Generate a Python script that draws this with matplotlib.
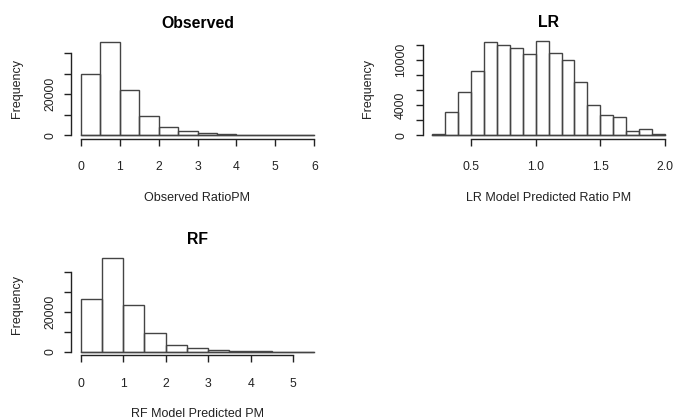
import matplotlib
matplotlib.use("Agg")
import matplotlib.pyplot as plt
import numpy as np

plt.rcParams['font.family'] = ['Liberation Sans', 'DejaVu Sans']

# bin edges and counts
obs_edges = [0, 0.5, 1, 1.5, 2, 2.5, 3, 3.5, 4, 4.5, 5, 5.5, 6]
obs_counts = [29750, 45660, 21950, 9560, 4200, 2250, 1270, 500, 300, 100, 50, 20]

lr_edges = [0.2, 0.3, 0.4, 0.5, 0.6, 0.7, 0.8, 0.9, 1.0, 1.1, 1.2, 1.3, 1.4,
            1.5, 1.6, 1.7, 1.8, 1.9, 2.0]
lr_counts = [130, 3150, 5730, 8530, 12400, 12000, 11680, 10800, 12530, 10930,
             10080, 7070, 4080, 2750, 2480, 610, 800, 130]

rf_edges = [0, 0.5, 1, 1.5, 2, 2.5, 3, 3.5, 4, 4.5, 5, 5.5]
rf_counts = [26400, 47050, 23380, 9570, 3530, 1700, 1000, 500, 100, 50, 20]

W, H = 673, 419
fig = plt.figure(figsize=(W / 100, H / 100), dpi=100)

ink = '#222222'
edge = '#444444'


def hist_panel(box, edges, counts, title, xlabel, xticks, xticklabels,
               yticks, ylabels):
    # box = (left, top, right, bottom) in pixels
    l, t, r, b = box
    w, h = r - l, b - t
    ax = fig.add_axes([l / W, 1 - b / H, w / W, h / H])
    edges = np.array(edges, dtype=float)
    counts = np.array(counts, dtype=float)
    ax.bar(edges[:-1], counts, width=np.diff(edges), align='edge',
           fill=False, edgecolor=edge, linewidth=1.0)
    ax.plot([edges[0], edges[-1]], [0, 0], color=edge, lw=1.0)
    xr = edges[-1] - edges[0]
    ymax = counts.max()
    ax.set_xlim(edges[0] - 0.04 * xr, edges[-1] + 0.04 * xr)
    ax.set_ylim(-0.04 * ymax, 1.04 * ymax)
    for s in ['top', 'right']:
        ax.spines[s].set_visible(False)
    ax.spines['left'].set_bounds(yticks[0], yticks[-1])
    ax.spines['bottom'].set_bounds(xticks[0], xticks[-1])
    for s in ['left', 'bottom']:
        ax.spines[s].set_color(ink)
        ax.spines[s].set_linewidth(1.0)
    ax.set_xticks(xticks)
    ax.set_xticklabels(xticklabels)
    ax.set_yticks(yticks)
    ax.set_yticklabels(ylabels, rotation=90, va='center')
    ax.tick_params(direction='out', length=5, width=1.0, colors=ink,
                   labelsize=8.8)
    ax.tick_params(axis='x', pad=11)
    ax.tick_params(axis='y', pad=6)
    ax.set_title(title, fontsize=11.4, fontweight='bold', pad=7.5)
    ax.set_xlabel(xlabel, fontsize=9, color=ink, va='center')
    ax.xaxis.set_label_coords(0.5, -59 / h)
    ax.set_ylabel('Frequency', fontsize=9, color=ink, va='center')
    ax.yaxis.set_label_coords(-54.5 / w, 0.5)
    return ax


hist_panel((71.4, 38.0, 323.6, 139.0), obs_edges, obs_counts, 'Observed',
           'Observed RatioPM', [0, 1, 2, 3, 4, 5, 6],
           ['0', '1', '2', '3', '4', '5', '6'],
           [0, 10000, 20000, 30000, 40000], ['0', '', '20000', '', ''])

hist_panel((422.5, 37.6, 674.6, 139.0), lr_edges, lr_counts, 'LR',
           'LR Model Predicted Ratio PM', [0.5, 1.0, 1.5, 2.0],
           ['0.5', '1.0', '1.5', '2.0'],
           [0, 2000, 4000, 6000, 8000, 10000, 12000],
           ['0', '', '4000', '', '', '10000', ''])

hist_panel((71.3, 254.6, 323.8, 355.4), rf_edges, rf_counts, 'RF',
           'RF Model Predicted PM', [0, 1, 2, 3, 4, 5],
           ['0', '1', '2', '3', '4', '5'],
           [0, 10000, 20000, 30000, 40000], ['0', '', '20000', '', ''])

fig.savefig('out.png', dpi=100)
